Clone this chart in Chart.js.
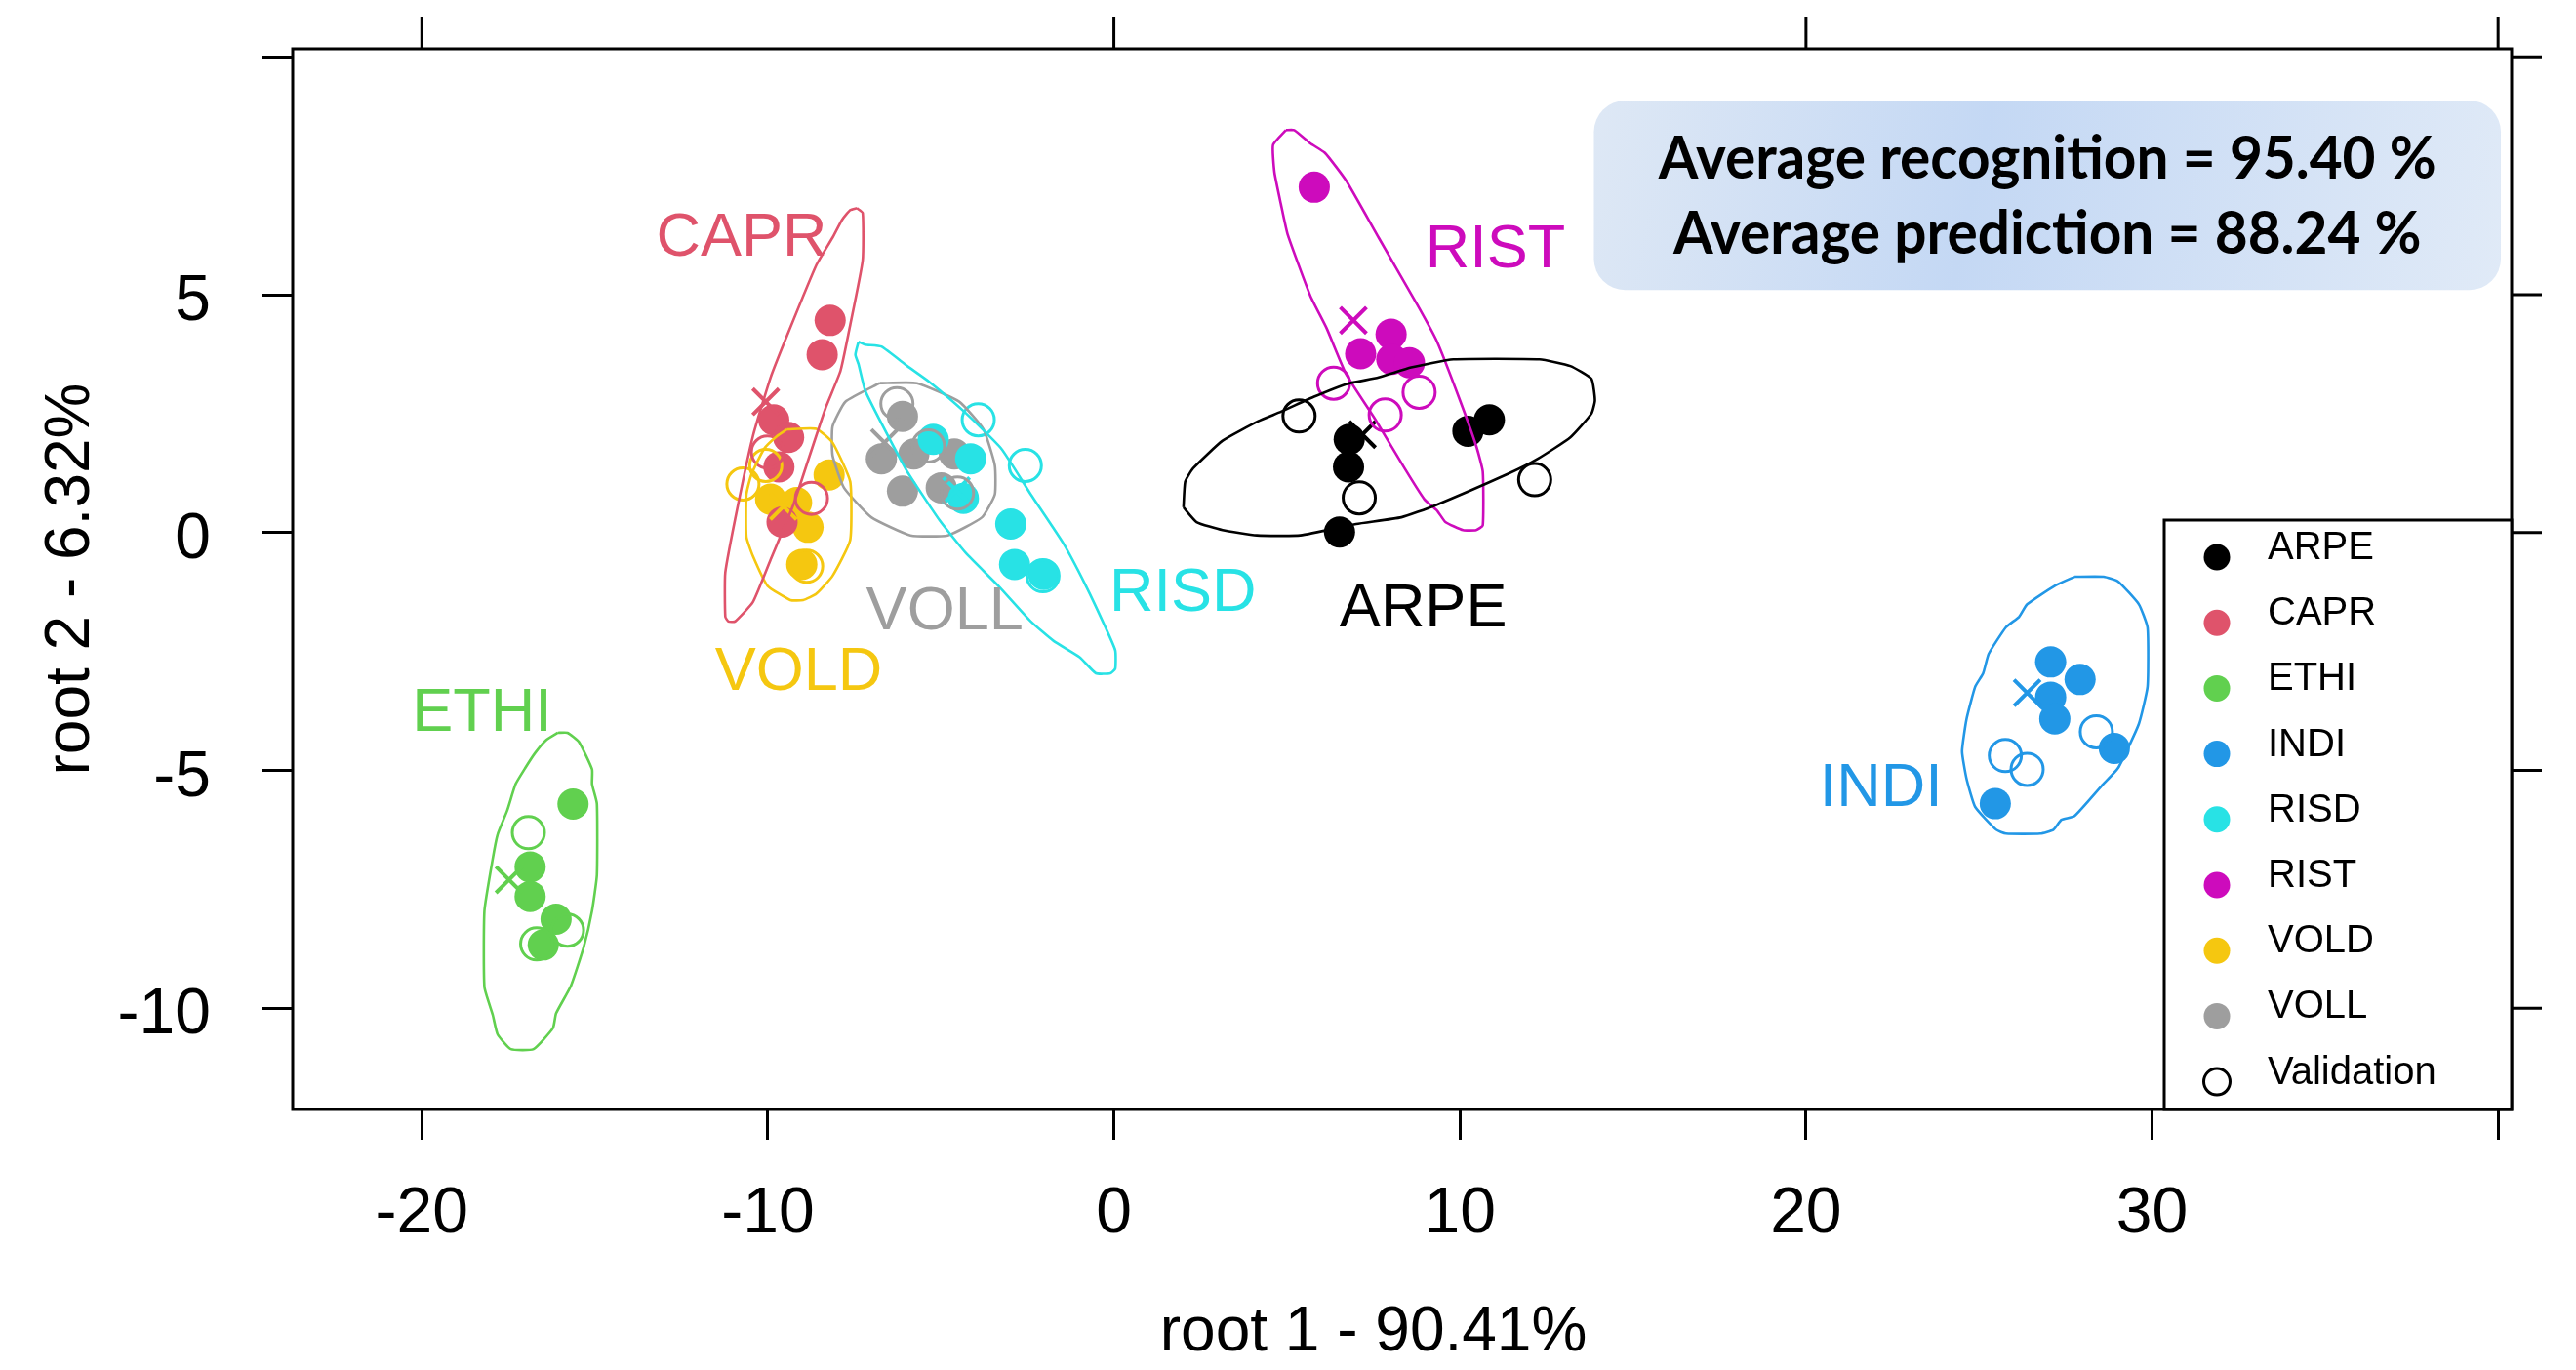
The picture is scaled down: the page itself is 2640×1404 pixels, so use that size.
<!DOCTYPE html>
<html><head><meta charset="utf-8">
<script src="https://cdn.jsdelivr.net/npm/chart.js@4.4.1/dist/chart.umd.min.js"></script>
<style>html,body{margin:0;padding:0;background:#fff;}#wrap{width:2640px;height:1404px;}</style>
</head><body><div id="wrap"><canvas id="c" width="2640" height="1404" style="width:2640px;height:1404px"></canvas></div>
<script>
const FONT = '"Liberation Sans", Arial, Helvetica, sans-serif';

// ---- categories & colours ----
const groups = ['ARPE','CAPR','ETHI','INDI','RISD','RIST','VOLD','VOLL'];
const colors = ['#000000','#DF536B','#61D04F','#2297E6','#28E2E5','#CD0BBC','#F5C710','#9E9E9E'];

// ---- training points (root1, root2) ----
const arpeX = [6.80, 6.78, 6.52, 10.23, 10.85];
const arpeY = [1.96, 1.38, 0.01, 2.13, 2.37];
const caprX = [-8.20, -8.43, -9.83, -9.40, -9.68, -9.59];
const caprY = [4.46, 3.74, 2.37, 2.00, 1.38, 0.22];
const ethiX = [-15.63, -16.87, -16.87, -16.12, -16.49];
const ethiY = [-5.71, -7.03, -7.65, -8.13, -8.67];
const indiX = [27.07, 27.92, 27.07, 27.19, 28.91, 25.47];
const indiY = [-2.72, -3.09, -3.46, -3.92, -4.54, -5.70];
const risdX = [-5.22, -4.14, -2.98, -2.87, -2.03, -4.35];
const risdY = [1.96, 1.55, 0.18, -0.67, -0.88, 0.72];
const ristX = [5.79, 7.13, 8.01, 8.03, 8.54];
const ristY = [7.26, 3.76, 4.17, 3.64, 3.57];
const voldX = [-8.23, -9.92, -9.17, -8.84, -9.02];
const voldY = [1.21, 0.70, 0.63, 0.11, -0.67];
const vollX = [-6.11, -6.72, -5.78, -4.61, -6.11, -4.99];
const vollY = [2.44, 1.55, 1.65, 1.65, 0.87, 0.94];

// ---- validation points ----
const arpeVX = [5.35, 7.09, 12.16];     const arpeVY = [2.45, 0.73, 1.11];
const caprVX = [-8.74, -10.01];         const caprVY = [0.72, 1.69];
const ethiVX = [-16.92, -15.79, -16.68]; const ethiVY = [-6.31, -8.36, -8.65];
const indiVX = [28.39, 25.76, 26.39];   const indiVY = [-4.19, -4.69, -4.98];
const risdVX = [-3.92, -2.56, -2.05];   const risdVY = [2.37, 1.41, -0.91];
const ristVX = [6.35, 7.84, 8.82];      const ristVY = [3.14, 2.47, 2.95];
const voldVX = [-10.72, -10.06, -8.88]; const voldVY = [1.02, 1.41, -0.71];
const vollVX = [-6.27, -5.36, -4.52];   const vollVY = [2.71, 1.82, 0.83];

// ---- group centroids (x marks) ----
const centX = [7.18, -10.06, -17.48, 26.39, -4.55, 6.92, -9.55, -6.63];
const centY = [2.06, 2.75, -7.30, -3.37, 0.88, 4.46, 0.55, 1.89];

// ---- group outlines ----
const arpeOX = [2.01,2.06,2.29,3.14,4.17,4.83,5.77,6.71,7.65,8.59,9.81,12.30,13.19,13.80,13.90,13.80,13.19,12.25,11.41,9.25,8.31,7.00,5.39,4.13,3.14,2.39];
const arpeOY = [0.53,1.07,1.35,1.93,2.34,2.54,2.85,3.12,3.26,3.47,3.64,3.64,3.50,3.23,2.78,2.50,2.00,1.55,1.24,0.56,0.32,0.18,-0.06,-0.06,0.05,0.22];
const caprOX = [-7.43,-7.26,-7.26,-7.62,-7.90,-8.32,-8.79,-9.26,-9.92,-10.43,-10.95,-11.14,-11.23,-11.23,-10.86,-10.43,-9.92,-9.40,-8.60,-8.13,-7.85,-7.62];
const caprOY = [6.82,6.72,5.72,4.36,3.40,2.64,1.62,0.59,-0.57,-1.46,-1.87,-1.87,-1.77,-0.84,0.59,2.03,3.26,4.22,5.62,6.20,6.58,6.78];
const ethiOX = [-16.07,-15.79,-15.46,-15.08,-15.08,-14.94,-14.94,-15.08,-15.32,-15.69,-16.12,-16.21,-16.77,-17.43,-17.81,-17.95,-18.19,-18.19,-17.95,-17.81,-17.53,-17.29,-17.01,-16.73,-16.40];
const ethiOY = [-4.21,-4.21,-4.40,-4.98,-5.29,-5.70,-7.20,-7.95,-8.71,-9.53,-10.11,-10.42,-10.86,-10.86,-10.55,-10.14,-9.56,-7.95,-6.86,-6.35,-5.84,-5.29,-4.95,-4.64,-4.36];
const indiOX = [27.76,28.60,29.02,29.62,29.87,29.87,29.62,29.02,28.55,27.76,27.38,27.15,26.77,25.78,25.50,24.89,24.64,24.51,24.64,24.89,25.12,25.28,25.78,26.16,26.39,27.19];
const indiOY = [-0.93,-0.93,-1.03,-1.51,-2.00,-3.24,-4.02,-4.95,-5.32,-5.96,-6.04,-6.25,-6.33,-6.33,-6.25,-5.77,-5.18,-4.60,-3.92,-3.24,-2.96,-2.55,-1.99,-1.77,-1.51,-1.12];
const risdOX = [-7.38,-7.19,-6.72,-5.97,-5.32,-4.28,-3.25,-2.40,-1.46,-0.81,-0.24,0.04,0.04,-0.10,-0.52,-0.99,-1.74,-2.40,-3.34,-4.28,-5.03,-5.97,-6.72,-7.19,-7.38,-7.47];
const risdOY = [4.01,3.95,3.91,3.50,3.16,2.51,1.76,0.80,-0.23,-1.12,-2.00,-2.48,-2.86,-2.96,-2.96,-2.62,-2.28,-1.87,-1.12,-0.43,0.25,1.28,2.30,2.99,3.54,3.74];
const ristOX = [4.97,5.21,5.68,6.10,6.71,7.65,8.78,9.34,10.00,10.47,10.66,10.66,10.47,10.09,9.58,9.34,8.97,8.40,7.56,6.71,6.15,5.68,5.02,4.83,4.64,4.60];
const ristOY = [8.46,8.46,8.18,7.98,7.40,6.20,4.77,4.01,2.78,1.82,1.28,0.15,0.05,0.05,0.22,0.46,0.70,1.35,2.37,3.33,4.29,4.97,6.27,6.89,7.57,8.15];
const voldOX = [-9.45,-8.60,-8.13,-7.62,-7.62,-8.13,-8.60,-8.98,-9.35,-10.01,-10.43,-10.62,-10.62,-10.48,-10.11,-9.73];
const voldOY = [2.17,2.18,1.89,1.07,-0.16,-0.91,-1.29,-1.42,-1.42,-1.12,-0.50,-0.09,0.80,1.21,1.76,2.03];
const vollOX = [-6.77,-5.69,-4.47,-3.77,-3.44,-3.44,-3.81,-4.80,-5.88,-7.01,-7.80,-8.13,-8.13,-7.76];
const vollOY = [3.14,3.14,2.75,2.17,1.41,0.80,0.32,-0.06,-0.06,0.32,0.94,1.62,2.23,2.75];

// ---- group label anchors (data space) ----
const labelX = [8.94, -10.76, -18.26, 22.17, 1.99, 11.02, -9.11, -4.89];
const labelY = [-1.62, 6.17, -3.82, -5.40, -1.30, 5.93, -2.95, -1.68];

// ---- axes ----
const xTicks = [-20, -10, 0, 10, 20, 30, 40];
const xTickLabels = ['-20', '-10', '0', '10', '20', '30', ''];
const yTicks = [-10, -5, 0, 5, 10];
const yTickLabels = ['-10', '-5', '0', '5', ''];
const topTicks = [-20, 0, 20, 40];
const xTitle = 'root 1 - 90.41%';
const yTitle = 'root 2 - 6.32%';
const legendItems = groups.concat(['Validation']);
const noteLines = ['Average recognition = 95.40 %', 'Average prediction = 88.24 %'];

// layout-only constants
const noteBox = {x0: 13.87, x1: 40.08, y0: 9.08, y1: 5.10};
const xTitleCenter = 7.5;   // x title is centred a little left of the panel centre

const trainX = [arpeX, caprX, ethiX, indiX, risdX, ristX, voldX, vollX];
const trainY = [arpeY, caprY, ethiY, indiY, risdY, ristY, voldY, vollY];
const valX = [arpeVX, caprVX, ethiVX, indiVX, risdVX, ristVX, voldVX, vollVX];
const valY = [arpeVY, caprVY, ethiVY, indiVY, risdVY, ristVY, voldVY, vollVY];
const outX = [arpeOX, caprOX, ethiOX, indiOX, risdOX, ristOX, voldOX, vollOX];
const outY = [arpeOY, caprOY, ethiOY, indiOY, risdOY, ristOY, voldOY, vollOY];

const zip = (xs, ys) => xs.map((v, i) => ({x: v, y: ys[i]}));

const datasets = [];
groups.forEach((g, i) => {
  const ring = zip(outX[i], outY[i]); ring.push(ring[0]);
  datasets.push({label: g + ' outline', data: ring, showLine: true, pointRadius: 0, pointHoverRadius: 0,
    borderColor: colors[i], borderWidth: 2.6, fill: false, tension: 0.15, order: 0});
  datasets.push({label: g + ' validation', data: zip(valX[i], valY[i]), pointStyle: 'circle', pointRadius: 16.5,
    pointBorderWidth: 3, pointBackgroundColor: 'rgba(0,0,0,0)', pointBorderColor: colors[i], order: 1});
  datasets.push({label: g + ' centroid', data: [{x: centX[i], y: centY[i]}], pointStyle: 'crossRot', pointRadius: 19,
    pointBorderWidth: 4, pointBorderColor: colors[i], pointBackgroundColor: colors[i], order: 2});
  datasets.push({label: g, data: zip(trainX[i], trainY[i]), pointStyle: 'circle', pointRadius: 16,
    pointBorderWidth: 0, pointBackgroundColor: colors[i], pointBorderColor: colors[i], order: 3});
});

const decor = {
  id: 'decor',
  afterDatasetsDraw(chart) {
    const {ctx, scales: {x, y}} = chart;
    ctx.save();
    ctx.font = '63px ' + FONT;
    ctx.textAlign = 'center';
    ctx.textBaseline = 'middle';
    groups.forEach((g, i) => {
      ctx.fillStyle = colors[i];
      ctx.fillText(g, x.getPixelForValue(labelX[i]), y.getPixelForValue(labelY[i]));
    });
    ctx.restore();
  },
  afterDraw(chart) {
    const {ctx, chartArea: a, scales: {x, y}} = chart;
    ctx.save();
    ctx.strokeStyle = '#000';
    ctx.lineWidth = 3;
    ctx.strokeRect(a.left, a.top, a.right - a.left, a.bottom - a.top);
    ctx.beginPath();
    topTicks.forEach(v => { const p = x.getPixelForValue(v); ctx.moveTo(p, a.top); ctx.lineTo(p, a.top - 33); });
    yTicks.forEach(v => { const p = y.getPixelForValue(v); ctx.moveTo(a.right, p); ctx.lineTo(a.right + 31, p); });
    ctx.stroke();

    // x axis title
    ctx.fillStyle = '#000';
    ctx.font = '64px ' + FONT;
    ctx.textAlign = 'center';
    ctx.textBaseline = 'middle';
    ctx.fillText(xTitle, x.getPixelForValue(xTitleCenter), 1366);

    // annotation box
    const bx0 = x.getPixelForValue(noteBox.x0), bx1 = x.getPixelForValue(noteBox.x1);
    const by0 = y.getPixelForValue(noteBox.y0), by1 = y.getPixelForValue(noteBox.y1);
    const grad = ctx.createLinearGradient(bx0, by0, bx1, by1);
    grad.addColorStop(0, '#dee8f5');
    grad.addColorStop(0.42, '#c4d8f4');
    grad.addColorStop(1, '#e0eaf7');
    ctx.fillStyle = grad;
    ctx.beginPath();
    ctx.roundRect(bx0, by0, bx1 - bx0, by1 - by0, 32);
    ctx.fill();
    ctx.fillStyle = '#000';
    ctx.font = 'bold 62px Lato, "Open Sans", sans-serif';
    ctx.textAlign = 'center';
    ctx.textBaseline = 'alphabetic';
    const sx = 797 / ctx.measureText(noteLines[0]).width;
    const cx = (bx0 + bx1) / 2;
    const offs = [80, 157];
    noteLines.forEach((t, k) => {
      ctx.save();
      ctx.translate(cx, by0 + offs[k]);
      ctx.scale(sx, 1);
      ctx.fillText(t, 0, 0);
      ctx.restore();
    });

    // legend
    const lw = 356, lh = 604;
    const lx = a.right - lw, ly = a.bottom - lh;
    ctx.fillStyle = '#fff';
    ctx.fillRect(lx, ly, lw, lh);
    ctx.lineWidth = 3;
    ctx.strokeStyle = '#000';
    ctx.strokeRect(lx, ly, lw, lh);
    ctx.font = '40px ' + FONT;
    ctx.textAlign = 'left';
    ctx.textBaseline = 'middle';
    legendItems.forEach((t, k) => {
      const my = ly + 38 + k * 67.2;
      ctx.beginPath();
      ctx.arc(lx + 54, my, 13.5, 0, Math.PI * 2);
      if (k < groups.length) { ctx.fillStyle = colors[k]; ctx.fill(); }
      else { ctx.lineWidth = 3; ctx.strokeStyle = '#000'; ctx.stroke(); }
      ctx.fillStyle = '#000';
      ctx.fillText(t, lx + 106, my - 9);
    });
    ctx.restore();
  }
};

Chart.defaults.font.family = FONT;
Chart.defaults.color = '#000';

new Chart(document.getElementById('c'), {
  type: 'scatter',
  data: {datasets},
  options: {
    responsive: false,
    animation: false,
    devicePixelRatio: 1,
    layout: {padding: {top: 50, right: 66, left: 0, bottom: 0}},
    plugins: {legend: {display: false}, tooltip: {enabled: false}},
    scales: {
      x: {
        type: 'linear', min: -23.73, max: 40.39,
        afterBuildTicks: s => { s.ticks = xTicks.map(v => ({value: v})); },
        afterFit: s => { s.height = 267; s.paddingLeft = 0; s.paddingRight = 0; },
        ticks: {callback: (v, i) => xTickLabels[i], font: {size: 66, family: FONT}, color: '#000',
          padding: 37, maxRotation: 0, autoSkip: false},
        grid: {drawOnChartArea: false, drawTicks: true, tickLength: 31, color: '#000', lineWidth: 3},
        border: {display: false},
        title: {display: false, text: xTitle}
      },
      y: {
        type: 'linear', min: -12.13, max: 10.17,
        afterBuildTicks: s => { s.ticks = yTicks.map(v => ({value: v})); },
        afterFit: s => { s.width = 300; s.paddingTop = 0; s.paddingBottom = 0; },
        ticks: {callback: (v, i) => yTickLabels[i], font: {size: 66, family: FONT}, color: '#000',
          padding: 53, labelOffset: 8, autoSkip: false},
        grid: {drawOnChartArea: false, drawTicks: true, tickLength: 31, color: '#000', lineWidth: 3},
        border: {display: false},
        title: {display: true, text: yTitle, font: {size: 64, family: FONT}, color: '#000', padding: {top: 35, bottom: 0}}
      }
    }
  },
  plugins: [decor]
});
</script></body></html>
